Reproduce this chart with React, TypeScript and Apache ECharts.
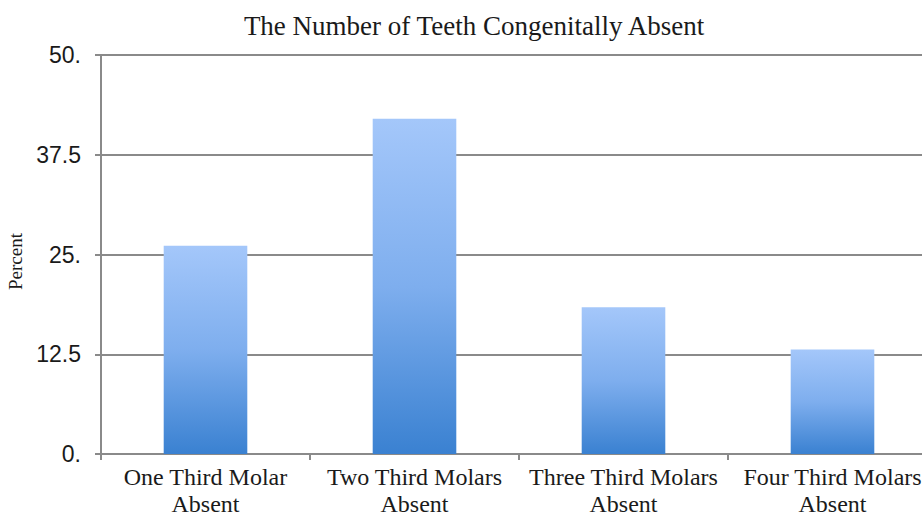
import React, { useEffect, useRef } from "react";
import * as echarts from "echarts";

const titleText = "The Number of Teeth Congenitally Absent";
const categories = [
  "One Third Molar\nAbsent",
  "Two Third Molars\nAbsent",
  "Three Third Molars\nAbsent",
  "Four Third Molars\nAbsent",
];
const percentValues = [26.1, 42.0, 18.4, 13.1];
const yTickLabels = ["0.", "12.5", "25.", "37.5", "50."];
const yAxisName = "Percent";

const SERIF = "'Liberation Serif', 'Times New Roman', serif";
const SANS = "'Liberation Sans', Arial, sans-serif";

export default function App() {
  const ref = useRef<HTMLDivElement>(null);
  useEffect(() => {
    if (!ref.current) return;
    const chart = echarts.init(ref.current, undefined, { renderer: "svg" });
    const gray = "#8a8a8a";
    chart.setOption({
      animation: false,
      backgroundColor: "#ffffff",
      title: {
        text: titleText,
        left: 469,
        textAlign: "center",
        top: 7,
        textStyle: {
          fontFamily: SERIF,
          fontSize: 27,
          fontWeight: "normal",
          color: "#1a1a1a",
        },
      },
      grid: {
        left: 101,
        top: 55,
        width: 836,
        bottom: 64,
        containLabel: false,
        outerBoundsMode: "none",
      },
      xAxis: {
        type: "category",
        data: categories,
        axisLine: { lineStyle: { color: gray, width: 2 } },
        axisTick: { show: true, length: 6, lineStyle: { color: gray, width: 2 } },
        axisLabel: {
          fontFamily: SERIF,
          fontSize: 24,
          color: "#1a1a1a",
          lineHeight: 27,
          margin: 9,
          interval: 0,
        },
      },
      yAxis: {
        type: "value",
        min: 0,
        max: 50,
        interval: 12.5,
        name: yAxisName,
        nameLocation: "middle",
        nameGap: 68,
        nameRotate: 90,
        nameTextStyle: {
          fontFamily: SERIF,
          fontSize: 19,
          color: "#1a1a1a",
          padding: [0, 14, 0, 0],
        },
        axisLine: { show: true, lineStyle: { color: gray, width: 2 } },
        axisTick: { show: true, length: 6, lineStyle: { color: gray, width: 2 } },
        splitLine: { lineStyle: { color: gray, width: 2 } },
        axisLabel: {
          fontFamily: SANS,
          fontSize: 23,
          color: "#1a1a1a",
          margin: 20,
          formatter: (v: number) => yTickLabels[Math.round(v / 12.5)],
        },
      },
      series: [
        {
          type: "bar",
          data: percentValues,
          barWidth: "40%",
          itemStyle: {
            color: new echarts.graphic.LinearGradient(0, 0, 0, 1, [
              { offset: 0, color: "#a4c7fa" },
              { offset: 0.5, color: "#7eaeee" },
              { offset: 1, color: "#3a81d1" },
            ]),
          },
        },
      ],
    });
    return () => chart.dispose();
  }, []);
  return (
    <div
      ref={ref}
      style={{ position: "fixed", left: 0, top: 0, width: 922, height: 518 }}
    />
  );
}
